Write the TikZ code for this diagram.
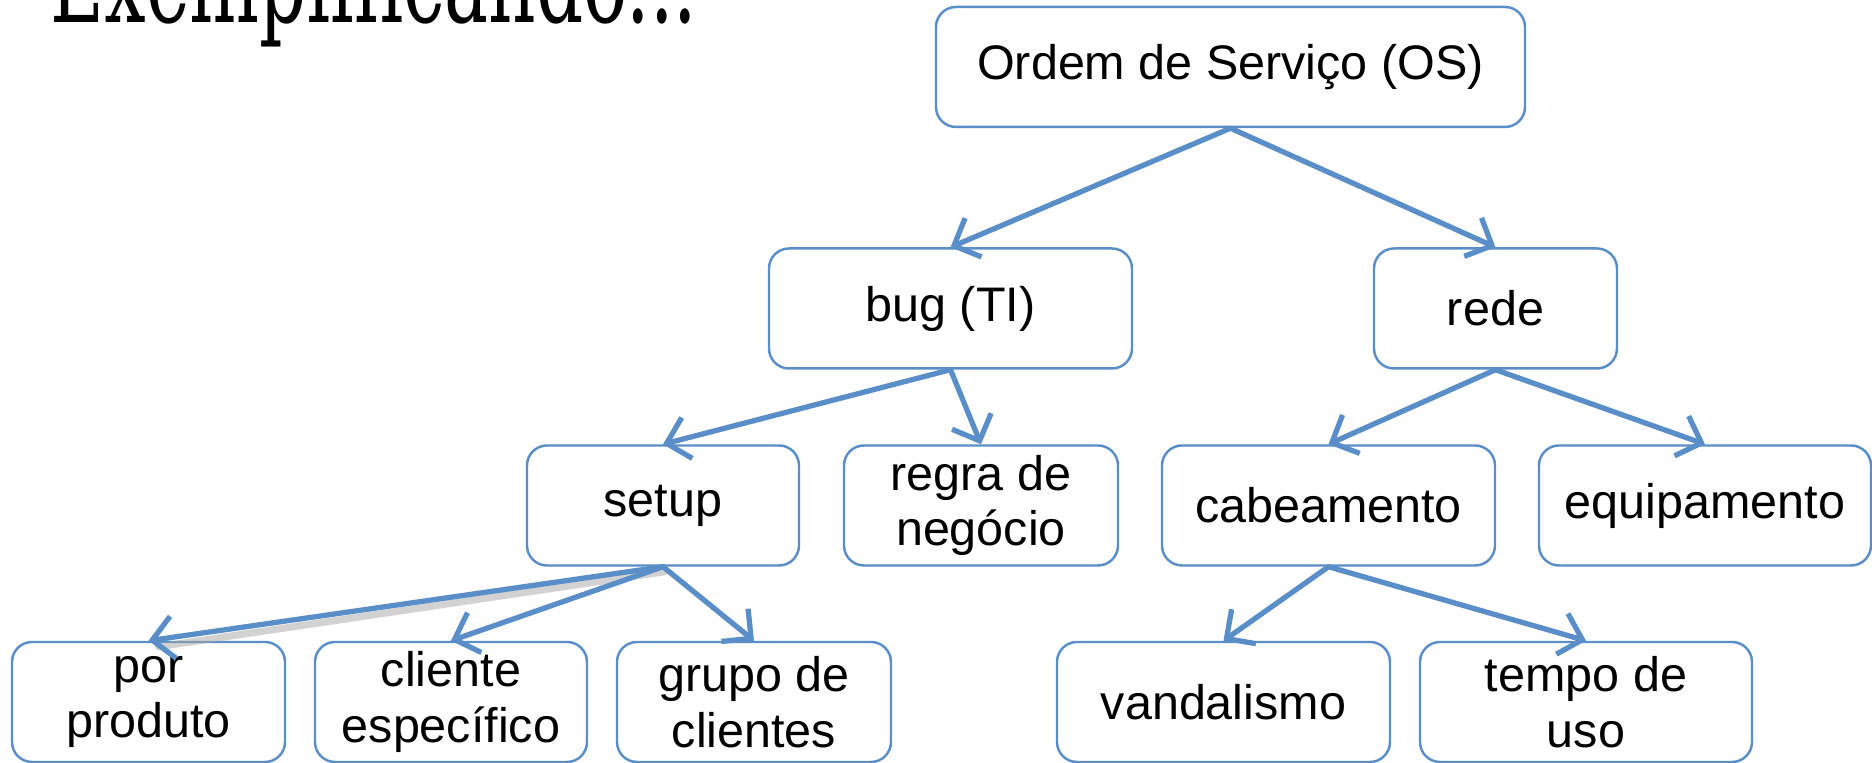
\documentclass[tikz,border=0pt]{standalone}
\usepackage{fontspec}
\setmainfont{Liberation Sans}
\newfontfamily\titlefont{DejaVu Serif}
\usetikzlibrary{arrows.meta, positioning}
\definecolor{ofblue}{HTML}{5A8EC8}
\tikzset{
    caixa/.style={draw=ofblue, line width=0.7pt, rounded corners=0.2cm, align=center,
        minimum height=1.2cm, inner sep=0pt, font=\fontsize{13.8}{15.8}\selectfont},
    seta/.style={draw=ofblue, line width=1.5pt, line cap=round, line join=round,
        -{Straight Barb[length=6pt, width=12pt]}},
    sombra/.style={draw=black!35, line width=2pt, opacity=0.5, line cap=round},
}

\begin{document}
\begin{tikzpicture}
    \useasboundingbox (0,0) rectangle (18.72,7.63);
    \node[anchor=base west, inner sep=0pt, font=\titlefont\fontsize{21}{21}\selectfont] (titulo) at (0.5,7.40)
        {\scalebox{1}[1.6]{Exemplificando...}};

    \node[caixa, minimum width=5.89cm] (os) at (12.305, 6.96) {Ordem de Serviço (OS)};

    \node[caixa, minimum width=3.63cm] (bug) at (9.505, 4.545) {bug (TI)};
    \node[caixa, minimum width=2.43cm] (rede) at (14.955, 4.545) {rede};

    \node[caixa, minimum width=2.72cm] (setup) at (6.63, 2.575) {setup};
    \node[caixa, minimum width=2.74cm] (regra) at (9.81, 2.575) {regra de\\negócio};
    \node[caixa, minimum width=3.33cm] (cabo) at (13.285, 2.575) {cabeamento};
    \node[caixa, minimum width=3.32cm] (equip) at (17.05, 2.575) {equipamento};

    \node[caixa, minimum width=2.73cm] (produto) at (1.485, 0.61) {por\\produto};
    \node[caixa, minimum width=2.72cm] (cliente) at (4.51, 0.61) {cliente\\específico};
    \node[caixa, minimum width=2.74cm] (grupo) at (7.54, 0.61) {grupo de\\clientes};
    \node[caixa, minimum width=3.33cm] (vandal) at (12.235, 0.61) {vandalismo};
    \node[caixa, minimum width=3.32cm] (tempo) at (15.86, 0.61) {tempo de\\uso};

    \draw[sombra] ([shift={(0.02,-0.05)}]setup.south) -- ([shift={(0.1,-0.06)}]produto.north);

    \draw (os.south) edge[seta] (bug.north);
    \draw (os.south) edge[seta] (rede.north);
    \draw (bug.south) edge[seta] (setup.north);
    \draw (bug.south) edge[seta] (regra.north);
    \draw (rede.south) edge[seta] (cabo.north);
    \draw (rede.south) edge[seta] (equip.north);
    \draw (setup.south) edge[seta] (produto.north);
    \draw (setup.south) edge[seta] (cliente.north);
    \draw (setup.south) edge[seta] (grupo.north);
    \draw (cabo.south) edge[seta] (vandal.north);
    \draw (cabo.south) edge[seta] (tempo.north);
\end{tikzpicture}
\end{document}
